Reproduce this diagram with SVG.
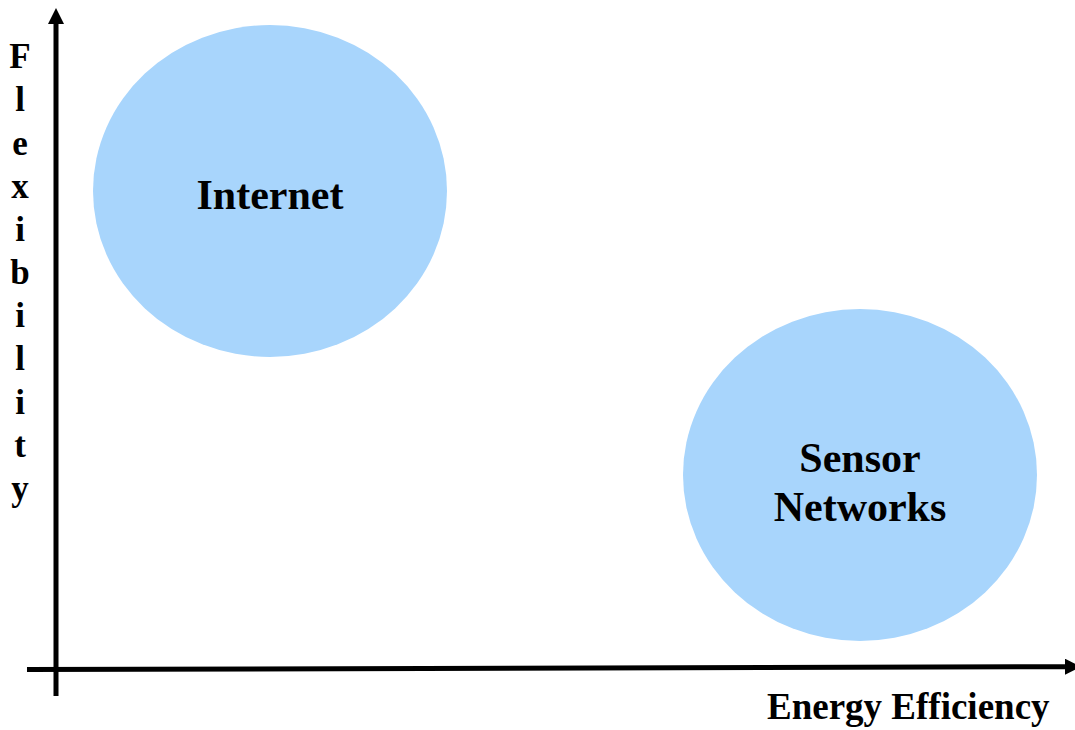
<svg xmlns="http://www.w3.org/2000/svg" width="1075" height="730" viewBox="0 0 1075 730">
  <style>
    .blob { fill: #A8D5FC; stroke: none; }
    .label { font-family: "Liberation Serif", "Times New Roman", serif; font-weight: bold; fill: #000; }
    .node-text { font-size: 42px; text-anchor: middle; }
    .axis { stroke: #000; stroke-width: 5; fill: none; marker-end: url(#arrow); }
    .axis-label { font-size: 37px; }
    .axis-letter { font-size: 35px; text-anchor: middle; }
  </style>
  <defs>
    <marker id="arrow" markerUnits="userSpaceOnUse" markerWidth="16" markerHeight="16" refX="0" refY="8" orient="auto">
      <path d="M0,0 L16,8 L0,16 z" fill="#000"/>
    </marker>
  </defs>

  <rect width="1075" height="730" fill="#fff"/>

  <!-- axes -->
  <g id="connectors">
    <line class="axis" x1="56" y1="696" x2="56" y2="24"/>
    <line class="axis" x1="27" y1="669.5" x2="1065" y2="666.7"/>
  </g>

  <!-- vertical axis label, one letter per line -->
  <g id="y-axis-label" class="label axis-letter">
    <text x="20" y="68">F</text>
    <text x="20" y="111">l</text>
    <text x="20" y="155">e</text>
    <text x="20" y="198">x</text>
    <text x="20" y="241">i</text>
    <text x="20" y="284">b</text>
    <text x="20" y="327">i</text>
    <text x="20" y="370">l</text>
    <text x="20" y="414">i</text>
    <text x="20" y="457">t</text>
    <text x="20" y="500">y</text>
  </g>

  <!-- horizontal axis label -->
  <g id="x-axis-label">
    <text class="label axis-label" x="767" y="719">Energy Efficiency</text>
  </g>

  <g id="internet">
    <ellipse class="blob" cx="270" cy="191" rx="177" ry="166"/>
    <text class="label node-text" x="270" y="209">Internet</text>
  </g>

  <g id="sensor-networks">
    <ellipse class="blob" cx="860" cy="475" rx="177" ry="166"/>
    <text class="label node-text" x="860" y="472">Sensor</text>
    <text class="label node-text" x="860" y="521">Networks</text>
  </g>
</svg>
